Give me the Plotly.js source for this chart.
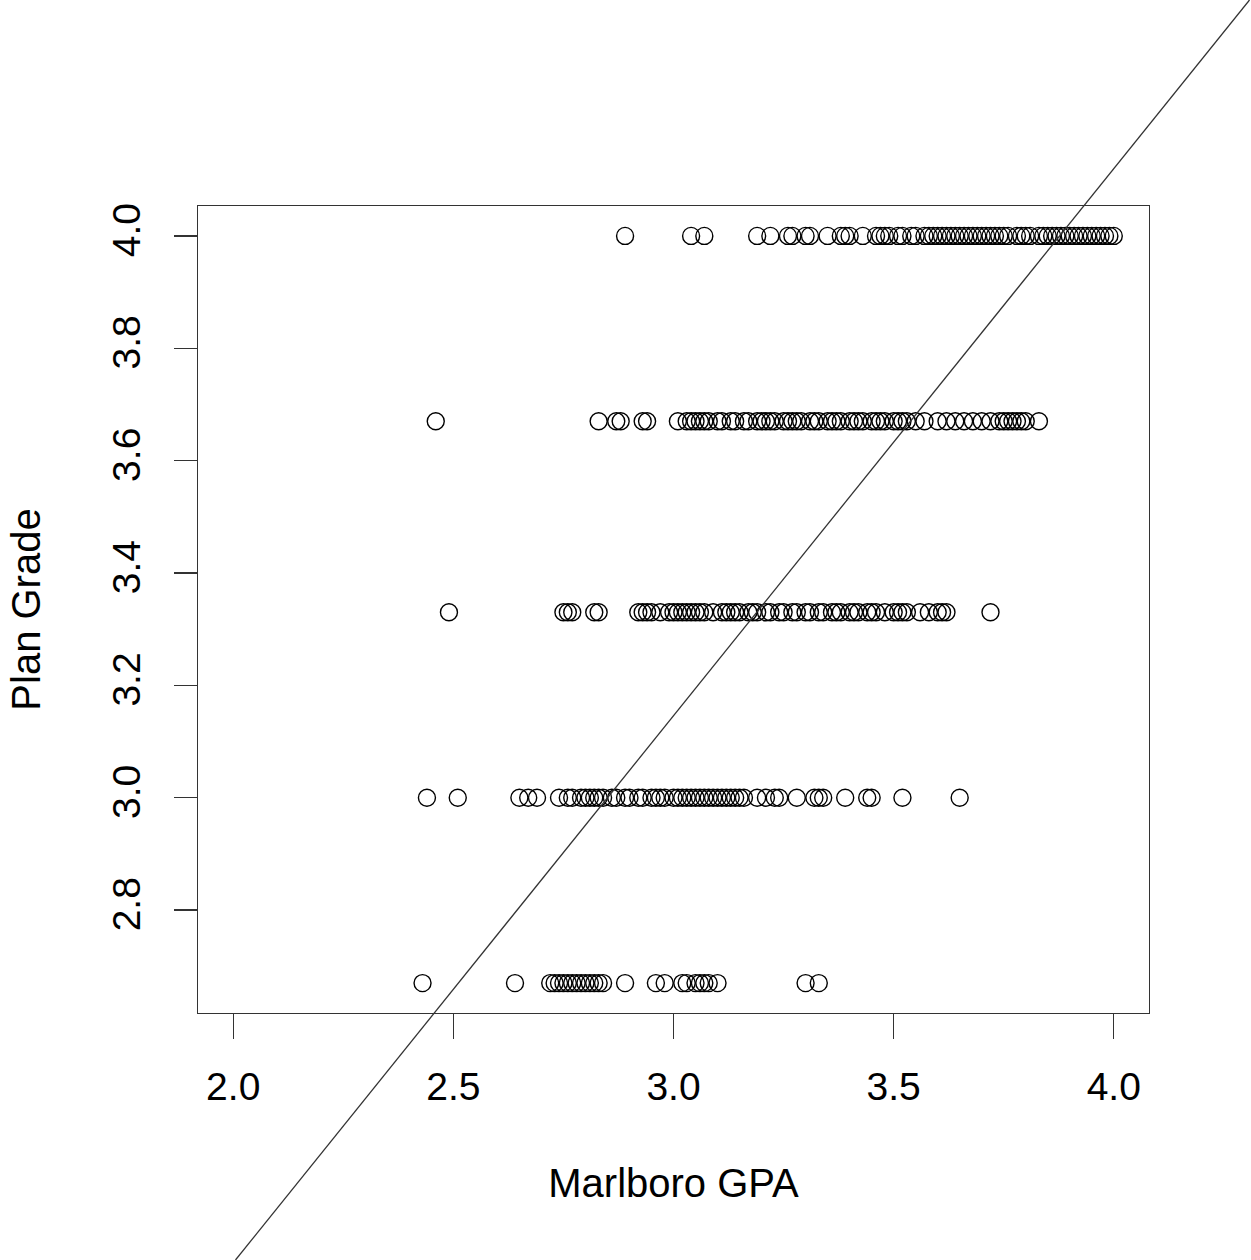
<!DOCTYPE html>
<html>
<head>
<meta charset="utf-8">
<script src="https://cdn.plot.ly/plotly-3.0.1.min.js"></script>
<style>html,body{margin:0;padding:0;background:#fff;}#chart{width:1251px;height:1260px;}</style>
</head>
<body>
<div id="chart"></div>
<script>
// Plan grade levels (y) and Marlboro GPA values (x)
const gradeLevels = [4.0, 3.67, 3.33, 3.0, 2.67];

const gpaAtGrade40 = [2.89, 3.04, 3.07, 3.19, 3.22, 3.26, 3.27, 3.30, 3.31, 3.35, 3.38, 3.39, 3.40, 3.43, 3.46, 3.47, 3.48, 3.49, 3.51, 3.52, 3.54, 3.55, 3.57, 3.58, 3.59, 3.60, 3.61, 3.62, 3.63, 3.64, 3.65, 3.66, 3.67, 3.68, 3.69, 3.70, 3.71, 3.72, 3.73, 3.74, 3.75, 3.76, 3.78, 3.79, 3.80, 3.81, 3.83, 3.84, 3.85, 3.86, 3.87, 3.88, 3.89, 3.90, 3.91, 3.92, 3.93, 3.94, 3.95, 3.96, 3.97, 3.98, 3.99, 4.00];

const gpaAtGrade367 = [2.46, 2.83, 2.87, 2.88, 2.93, 2.94, 3.01, 3.03, 3.04, 3.05, 3.06, 3.07, 3.08, 3.10, 3.11, 3.13, 3.14, 3.16, 3.17, 3.19, 3.20, 3.21, 3.22, 3.23, 3.25, 3.26, 3.27, 3.28, 3.29, 3.31, 3.32, 3.33, 3.35, 3.36, 3.37, 3.38, 3.40, 3.41, 3.42, 3.43, 3.45, 3.46, 3.47, 3.48, 3.50, 3.51, 3.52, 3.53, 3.55, 3.57, 3.60, 3.62, 3.64, 3.66, 3.68, 3.70, 3.72, 3.74, 3.75, 3.76, 3.77, 3.78, 3.79, 3.80, 3.83];

const gpaAtGrade333 = [2.49, 2.75, 2.76, 2.77, 2.82, 2.83, 2.92, 2.93, 2.94, 2.95, 2.97, 2.99, 3.00, 3.01, 3.02, 3.03, 3.04, 3.05, 3.06, 3.07, 3.09, 3.11, 3.12, 3.13, 3.14, 3.15, 3.17, 3.18, 3.19, 3.21, 3.22, 3.24, 3.25, 3.27, 3.28, 3.30, 3.31, 3.33, 3.34, 3.36, 3.37, 3.38, 3.40, 3.41, 3.42, 3.44, 3.45, 3.46, 3.48, 3.50, 3.51, 3.52, 3.53, 3.56, 3.58, 3.60, 3.61, 3.62, 3.72];

const gpaAtGrade30 = [2.44, 2.51, 2.65, 2.67, 2.69, 2.74, 2.76, 2.77, 2.79, 2.80, 2.81, 2.82, 2.83, 2.84, 2.86, 2.87, 2.89, 2.90, 2.92, 2.93, 2.95, 2.96, 2.97, 2.98, 3.00, 3.01, 3.02, 3.03, 3.04, 3.05, 3.06, 3.07, 3.08, 3.09, 3.10, 3.11, 3.12, 3.13, 3.14, 3.15, 3.16, 3.19, 3.21, 3.23, 3.24, 3.28, 3.32, 3.33, 3.34, 3.39, 3.44, 3.45, 3.52, 3.65];

const gpaAtGrade267 = [2.43, 2.64, 2.72, 2.73, 2.74, 2.75, 2.76, 2.77, 2.78, 2.79, 2.80, 2.81, 2.82, 2.83, 2.84, 2.89, 2.96, 2.98, 3.02, 3.03, 3.05, 3.06, 3.07, 3.08, 3.10, 3.30, 3.33];

const xTicks = [2.0, 2.5, 3.0, 3.5, 4.0];
const yTicks = [2.8, 3.0, 3.2, 3.4, 3.6, 3.8, 4.0];

// reference line (intercept, slope)
const lineIntercept = 0.2245;
const lineSlope = 0.9738;

const groups = [gpaAtGrade40, gpaAtGrade367, gpaAtGrade333, gpaAtGrade30, gpaAtGrade267];
const xs = [], ys = [];
groups.forEach((g, i) => g.forEach(v => { xs.push(v); ys.push(gradeLevels[i]); }));

// R-style 4% axis extension
const xMin = 2.0, xMax = 4.0;
const yMin = Math.min(...ys), yMax = Math.max(...ys);
const xPad = (xMax - xMin) * 0.04, yPad = (yMax - yMin) * 0.04;
const xRange = [xMin - xPad, xMax + xPad];
const yRange = [yMin - yPad, yMax + yPad];

const W = 1251, H = 1260;
const margin = {l: 198, r: 102, t: 206, b: 247, pad: 0};
const plotH = H - margin.t - margin.b;

// line across the full figure height, computed in paper coordinates
const pTop = (plotH + margin.t) / plotH;
const pBot = -margin.b / plotH;
function yData(p) { return yRange[0] + p * (yRange[1] - yRange[0]); }
function xPaper(x) { return (x - xRange[0]) / (xRange[1] - xRange[0]); }
const yTopD = yData(pTop), yBotD = yData(pBot);
const xTopD = (yTopD - lineIntercept) / lineSlope;
const xBotD = (yBotD - lineIntercept) / lineSlope;

const fam = '"Liberation Sans", Arial, sans-serif';
const tickFont = {family: fam, size: 39, color: '#000'};
const titleFont = {family: fam, size: 40, color: '#000'};

const trace = {
  x: xs, y: ys, type: 'scatter', mode: 'markers',
  marker: {symbol: 'circle-open', size: 17, color: '#000', line: {width: 1.4, color: '#000'}},
  hoverinfo: 'x+y', showlegend: false
};

const layout = {
  width: W, height: H, margin: margin,
  paper_bgcolor: '#fff', plot_bgcolor: '#fff',
  font: tickFont,
  showlegend: false,
  xaxis: {
    range: xRange, tickvals: xTicks, ticktext: xTicks.map(v => v.toFixed(1)),
    ticks: 'outside', ticklen: 25, tickwidth: 1.3, tickcolor: '#333',
    ticklabelstandoff: 14,
    showline: true, mirror: true, linecolor: '#333', linewidth: 1.3,
    showgrid: false, zeroline: false,
    tickfont: tickFont,
    title: {text: 'Marlboro GPA', font: titleFont, standoff: 62}
  },
  yaxis: {
    range: yRange, tickvals: yTicks, ticktext: yTicks.map(v => v.toFixed(1)),
    ticks: 'outside', ticklen: 23, tickwidth: 1.3, tickcolor: '#333', tickangle: -90,
    ticklabelstandoff: 18,
    showline: true, mirror: true, linecolor: '#333', linewidth: 1.3,
    showgrid: false, zeroline: false,
    tickfont: tickFont,
    title: {text: 'Plan Grade', font: titleFont, standoff: 52}
  },
  shapes: [{
    type: 'line', xref: 'paper', yref: 'paper', layer: 'above',
    x0: xPaper(xBotD), y0: pBot, x1: xPaper(xTopD), y1: pTop,
    line: {color: '#333', width: 1.3}
  }]
};

Plotly.newPlot('chart', [trace], layout, {displayModeBar: false, staticPlot: true});
</script>
</body>
</html>
